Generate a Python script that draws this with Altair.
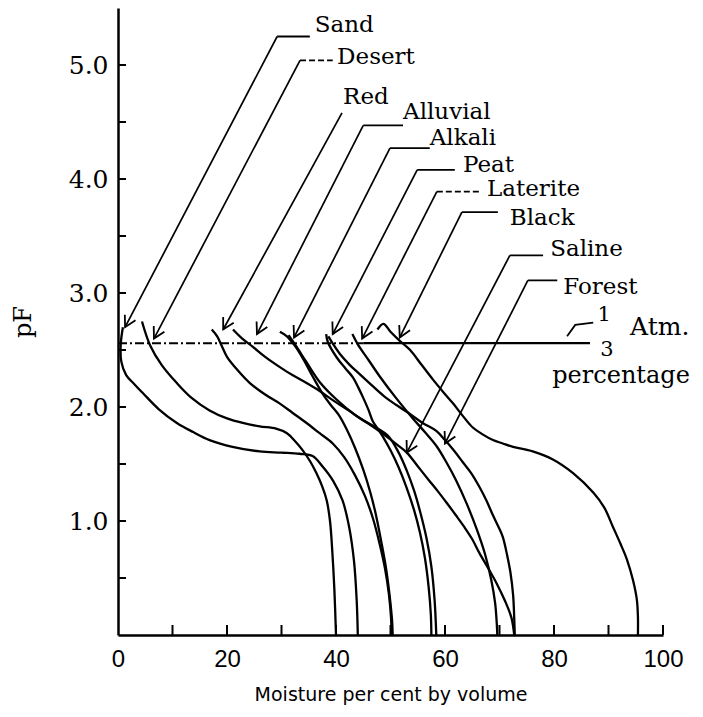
import math
import altair as alt
import pandas as pd

# ---------------- data ----------------
soils = ["Sand", "Desert", "Red", "Alluvial", "Alkali", "Peat",
         "Laterite", "Black", "Saline", "Forest"]

sand_x = [0.9, 0.5, 0.6, 1.5, 3.0, 4.6, 7.5, 10.8, 13.8, 16.8, 21.0, 26.0, 30.0,
          33.3, 35.7, 37.5, 39.5, 41.2, 42.4, 43.3, 43.8, 44.0]
sand_y = [2.70, 2.55, 2.40, 2.28, 2.20, 2.12, 1.98, 1.86, 1.78, 1.71, 1.65, 1.61, 1.60,
          1.59, 1.57, 1.48, 1.35, 1.18, 0.95, 0.65, 0.30, 0.0]

desert_x = [4.4, 5.9, 8.0, 10.8, 13.5, 16.8, 20.0, 22.9, 26.0, 29.0, 31.0, 32.5, 33.9,
            35.3, 36.4, 37.5, 38.3, 38.9, 39.3, 39.7, 40.0]
desert_y = [2.75, 2.54, 2.37, 2.21, 2.08, 1.97, 1.90, 1.86, 1.83, 1.81, 1.77, 1.70, 1.62,
            1.52, 1.42, 1.30, 1.18, 1.00, 0.75, 0.40, 0.0]

red_x = [17.2, 18.2, 19.0, 20.0, 22.0, 24.2, 27.0, 29.7, 32.0, 34.6, 37.0, 39.4, 41.5,
         43.5, 45.3, 46.8, 48.0, 49.0, 49.7, 50.1, 50.2]
red_y = [2.68, 2.62, 2.54, 2.44, 2.32, 2.21, 2.11, 2.03, 1.95, 1.86, 1.77, 1.68, 1.56,
         1.40, 1.22, 1.02, 0.80, 0.58, 0.36, 0.15, 0.0]

alluvial_x = [21.1, 22.8, 24.7, 27.0, 29.7, 32.0, 34.6, 37.0, 39.4, 42.0, 44.5, 47.0,
              49.5, 51.5, 53.0, 54.3, 55.5, 56.6, 57.5, 58.1, 58.4]
alluvial_y = [2.68, 2.60, 2.53, 2.44, 2.35, 2.28, 2.21, 2.14, 2.06, 1.98, 1.90, 1.83,
              1.75, 1.60, 1.44, 1.27, 1.07, 0.85, 0.60, 0.30, 0.0]

alkali_x = [29.7, 31.0, 32.4, 34.0, 35.7, 37.5, 39.0, 40.5, 42.0, 43.5, 45.0, 46.3,
            47.3, 48.3, 49.2, 49.9, 50.3, 50.4]
alkali_y = [2.66, 2.62, 2.54, 2.42, 2.27, 2.12, 2.02, 1.93, 1.80, 1.64, 1.45, 1.25,
            1.06, 0.82, 0.58, 0.32, 0.12, 0.0]

peat_x = [38.2, 38.5, 40.2, 41.7, 43.1, 44.1, 45.0, 46.0, 46.8, 47.8, 48.6, 50.0,
          51.5, 52.9, 54.3, 55.4, 56.3, 57.0, 57.4, 57.5]
peat_y = [2.64, 2.57, 2.43, 2.34, 2.26, 2.17, 2.08, 1.97, 1.87, 1.80, 1.74, 1.62,
          1.47, 1.30, 1.10, 0.90, 0.68, 0.42, 0.18, 0.0]

laterite_x = [43.0, 44.0, 46.0, 48.0, 51.0, 54.1, 56.3, 58.4, 60.2, 62.0, 64.0, 65.8,
              67.4, 68.5, 69.2, 69.5, 69.6]
laterite_y = [2.64, 2.55, 2.41, 2.27, 2.08, 1.90, 1.78, 1.66, 1.52, 1.36, 1.15, 0.93,
              0.70, 0.48, 0.28, 0.10, 0.0]

black_x = [47.6, 48.7, 50.0, 51.7, 53.6, 55.7, 57.8, 59.7, 61.5, 63.3, 65.1, 66.9,
           68.8, 70.6, 72.5, 76.1, 79.8, 83.5, 87.2, 89.2, 90.8, 92.2, 93.4, 94.5,
           95.2, 95.4, 95.4]
black_y = [2.68, 2.73, 2.66, 2.58, 2.50, 2.37, 2.24, 2.13, 2.03, 1.92, 1.82, 1.76,
           1.71, 1.68, 1.65, 1.61, 1.54, 1.42, 1.25, 1.12, 0.95, 0.80, 0.66, 0.48,
           0.31, 0.16, 0.0]

saline_x = [31.3, 32.6, 34.5, 37.0, 40.0, 43.5, 47.0, 49.3, 51.2, 53.0, 55.0, 57.0,
            58.7, 60.3, 62.0, 63.5, 65.0, 66.3, 68.0, 69.5, 71.0, 72.2, 72.7]
saline_y = [2.63, 2.54, 2.40, 2.22, 2.07, 1.93, 1.82, 1.74, 1.67, 1.60, 1.48, 1.36,
            1.26, 1.16, 1.05, 0.95, 0.84, 0.72, 0.58, 0.45, 0.30, 0.15, 0.0]

forest_x = [38.6, 39.5, 40.8, 42.5, 44.3, 46.8, 49.2, 51.0, 52.9, 55.9, 58.4, 60.0,
            61.6, 63.2, 64.8, 66.3, 67.6, 68.8, 69.8, 70.6, 71.4, 72.0, 72.5, 72.7, 72.8]
forest_y = [2.62, 2.55, 2.46, 2.37, 2.29, 2.18, 2.08, 2.02, 1.96, 1.86, 1.79, 1.71,
            1.62, 1.52, 1.42, 1.30, 1.18, 1.05, 0.95, 0.86, 0.70, 0.55, 0.35, 0.15, 0.0]

curve_x = {"Sand": sand_x, "Desert": desert_x, "Red": red_x, "Alluvial": alluvial_x,
           "Alkali": alkali_x, "Peat": peat_x, "Laterite": laterite_x,
           "Black": black_x, "Saline": saline_x, "Forest": forest_x}
curve_y = {"Sand": sand_y, "Desert": desert_y, "Red": red_y, "Alluvial": alluvial_y,
           "Alkali": alkali_y, "Peat": peat_y, "Laterite": laterite_y,
           "Black": black_y, "Saline": saline_y, "Forest": forest_y}

# label text and leader lines (data units)
label_x = [36.1, 40.2, 41.3, 52.3, 57.2, 63.3, 67.7, 71.9, 79.3, 81.7]
label_y = [5.35, 5.07, 4.72, 4.59, 4.36, 4.12, 3.91, 3.66, 3.39, 3.05]
corner_x = [29.2, 33.4, 41.1, 45.0, 49.9, 54.9, 58.5, 63.1, 71.9, 75.2]
corner_y = [5.25, 5.04, 4.58, 4.47, 4.27, 4.08, 3.89, 3.71, 3.33, 3.11]
seg_end_x = [35.2, 39.4, 41.1, 52.3, 57.2, 61.8, 66.4, 69.7, 78.0, 80.6]
seg_dash = ["solid", "dash", "solid", "solid", "solid", "solid", "dash", "solid", "solid", "solid"]
tip_x = [1.3, 6.6, 19.3, 25.5, 32.3, 39.4, 44.8, 51.7, 53.0, 60.0]
tip_y = [2.70, 2.60, 2.68, 2.64, 2.61, 2.64, 2.60, 2.61, 1.60, 1.68]

# 1/3 atmosphere line
atm_y = 2.56
atm_dash_end = 45.0
atm_end = 86.6
hook_x = [82.4, 83.9, 87.2]
hook_y = [2.62, 2.72, 2.74]
atm_text = ["1", "Atm.", "3", "percentage"]
atm_text_x = [89.2, 99.4, 89.7, 92.3]
atm_text_y = [2.81, 2.70, 2.50, 2.27]
atm_text_size = [21, 25, 21, 24]

x_label_values = [0, 20, 40, 60, 80, 100]
x_tick_values = [10, 20, 30, 40, 50, 60, 70, 80, 90, 100]
y_label_values = [1, 2, 3, 4, 5]
y_tick_values = [0.5, 1.0, 1.5, 2.0, 2.5, 3.0, 3.5, 4.0, 4.5, 5.0]

# ---------------- build tables ----------------
W, H = 545, 627
X_MAX, Y_MAX = 100, 5.5
PX_X = W / X_MAX
PX_Y = H / Y_MAX

rows = []
for s in soils:
    for i, (xv, yv) in enumerate(zip(curve_x[s], curve_y[s])):
        rows.append({"soil": s, "i": i, "x": xv, "y": yv})
curves = pd.DataFrame(rows)

lead_rows, seg_rows, arrow_rows, lab_rows = [], [], [], []
for k, s in enumerate(soils):
    lead_rows.append({"soil": s, "i": 0, "x": corner_x[k], "y": corner_y[k]})
    lead_rows.append({"soil": s, "i": 1, "x": tip_x[k], "y": tip_y[k]})
    if seg_end_x[k] > corner_x[k]:
        seg_rows.append({"soil": s, "x": corner_x[k], "x2": seg_end_x[k],
                         "y": corner_y[k], "dash": seg_dash[k]})
    dx = (tip_x[k] - corner_x[k]) * PX_X
    dy = (corner_y[k] - tip_y[k]) * PX_Y
    ang = math.degrees(math.atan2(-dx, dy)) % 360
    arrow_rows.append({"soil": s, "x": tip_x[k], "y": tip_y[k], "ang": ang})
    lab_rows.append({"soil": s, "x": label_x[k], "y": label_y[k]})
leaders = pd.DataFrame(lead_rows)
segs = pd.DataFrame(seg_rows)
arrows = pd.DataFrame(arrow_rows)
labels = pd.DataFrame(lab_rows)

atm_dash = pd.DataFrame({"x": [0.0, atm_dash_end], "y": [atm_y, atm_y]})
atm_solid = pd.DataFrame({"x": [atm_dash_end, atm_end], "y": [atm_y, atm_y]})
hook = pd.DataFrame({"i": list(range(len(hook_x))), "x": hook_x, "y": hook_y})
atm_txt = pd.DataFrame({"t": atm_text, "x": atm_text_x, "y": atm_text_y, "s": atm_text_size})
yt = pd.DataFrame({"y": y_tick_values})
xt = pd.DataFrame({"x": x_tick_values})

xs = alt.Scale(domain=[0, X_MAX], nice=False, zero=False)
ys = alt.Scale(domain=[0, Y_MAX], nice=False, zero=False)

x_axis = alt.Axis(values=x_label_values, ticks=False, grid=False, domainColor="black",
                  domainWidth=2.5, labelFont="Liberation Sans Narrow, Liberation Sans",
                  labelFontSize=24, labelColor="black", labelPadding=12,
                  title="Moisture per cent by volume", titleFont="DejaVu Sans",
                  titleFontSize=19, titleFontWeight="normal", titleColor="black",
                  titlePadding=14, labelFlush=False)
y_axis = alt.Axis(values=y_label_values, format=".1f", ticks=False, grid=False,
                  domainColor="black", domainWidth=2.5, labelFont="DejaVu Serif",
                  labelFontSize=25, labelColor="black", labelPadding=10,
                  title="pF", titleFont="DejaVu Serif", titleFontSize=24,
                  titleFontWeight="normal", titleColor="black", titlePadding=33,
                  labelFlush=False)


def X(field="x:Q"):
    return alt.X(field, scale=xs, axis=x_axis)


def Y(field="y:Q"):
    return alt.Y(field, scale=ys, axis=y_axis)


curve_layer = alt.Chart(curves).mark_line(
    interpolate="catmull-rom", color="black", strokeWidth=2.3
).encode(x=X(), y=Y(), detail="soil:N", order="i:Q")

leader_layer = alt.Chart(leaders).mark_line(color="black", strokeWidth=1.7).encode(
    x=X(), y=Y(), detail="soil:N", order="i:Q")

seg_layer = alt.Chart(segs).mark_rule(color="black", strokeWidth=1.8).encode(
    x=X(), x2="x2:Q", y=Y(),
    strokeDash=alt.StrokeDash("dash:N", scale=alt.Scale(domain=["solid", "dash"],
                              range=[[1, 0], [6, 3]]), legend=None))

arrow_layer = alt.Chart(arrows).mark_point(
    shape="M-0.55,-1L0,0L0.55,-1", filled=False, color="black", strokeWidth=1.8,
    size=480, opacity=1
).encode(x=X(), y=Y(), angle=alt.Angle("ang:Q", scale=None))

label_layer = alt.Chart(labels).mark_text(
    align="left", baseline="middle", font="DejaVu Serif", fontSize=23, color="black"
).encode(x=X(), y=Y(), text="soil:N")

atm_dash_layer = alt.Chart(atm_dash).mark_line(
    color="black", strokeWidth=2, strokeDash=[9, 3, 2, 3]
).encode(x=X(), y=Y())
atm_solid_layer = alt.Chart(atm_solid).mark_line(color="black", strokeWidth=2.2).encode(
    x=X(), y=Y())
hook_layer = alt.Chart(hook).mark_line(color="black", strokeWidth=1.8).encode(
    x=X(), y=Y(), order="i:Q")
atm_text_layer = alt.Chart(atm_txt).mark_text(
    align="center", baseline="middle", font="DejaVu Serif", color="black"
).encode(x=X(), y=Y(), text="t:N", size=alt.Size("s:Q", scale=None, legend=None))

ytick_layer = alt.Chart(yt).mark_rule(color="black", strokeWidth=2).encode(
    y=Y(), x=alt.value(0), x2=alt.value(8))
xtick_layer = alt.Chart(xt).mark_rule(color="black", strokeWidth=2).encode(
    x=X(), y=alt.value(H), y2=alt.value(H - 10))

chart = alt.layer(
    curve_layer, leader_layer, seg_layer, arrow_layer, label_layer,
    atm_dash_layer, atm_solid_layer, hook_layer, atm_text_layer,
    ytick_layer, xtick_layer
).properties(
    width=W, height=H,
    padding={"left": 110, "top": 0, "right": 32, "bottom": 74},
    autosize=alt.AutoSizeParams(type="none"),
    background="white"
).configure_view(stroke=None)

chart.save("out.html", embed_options={"renderer": "svg", "actions": False})
